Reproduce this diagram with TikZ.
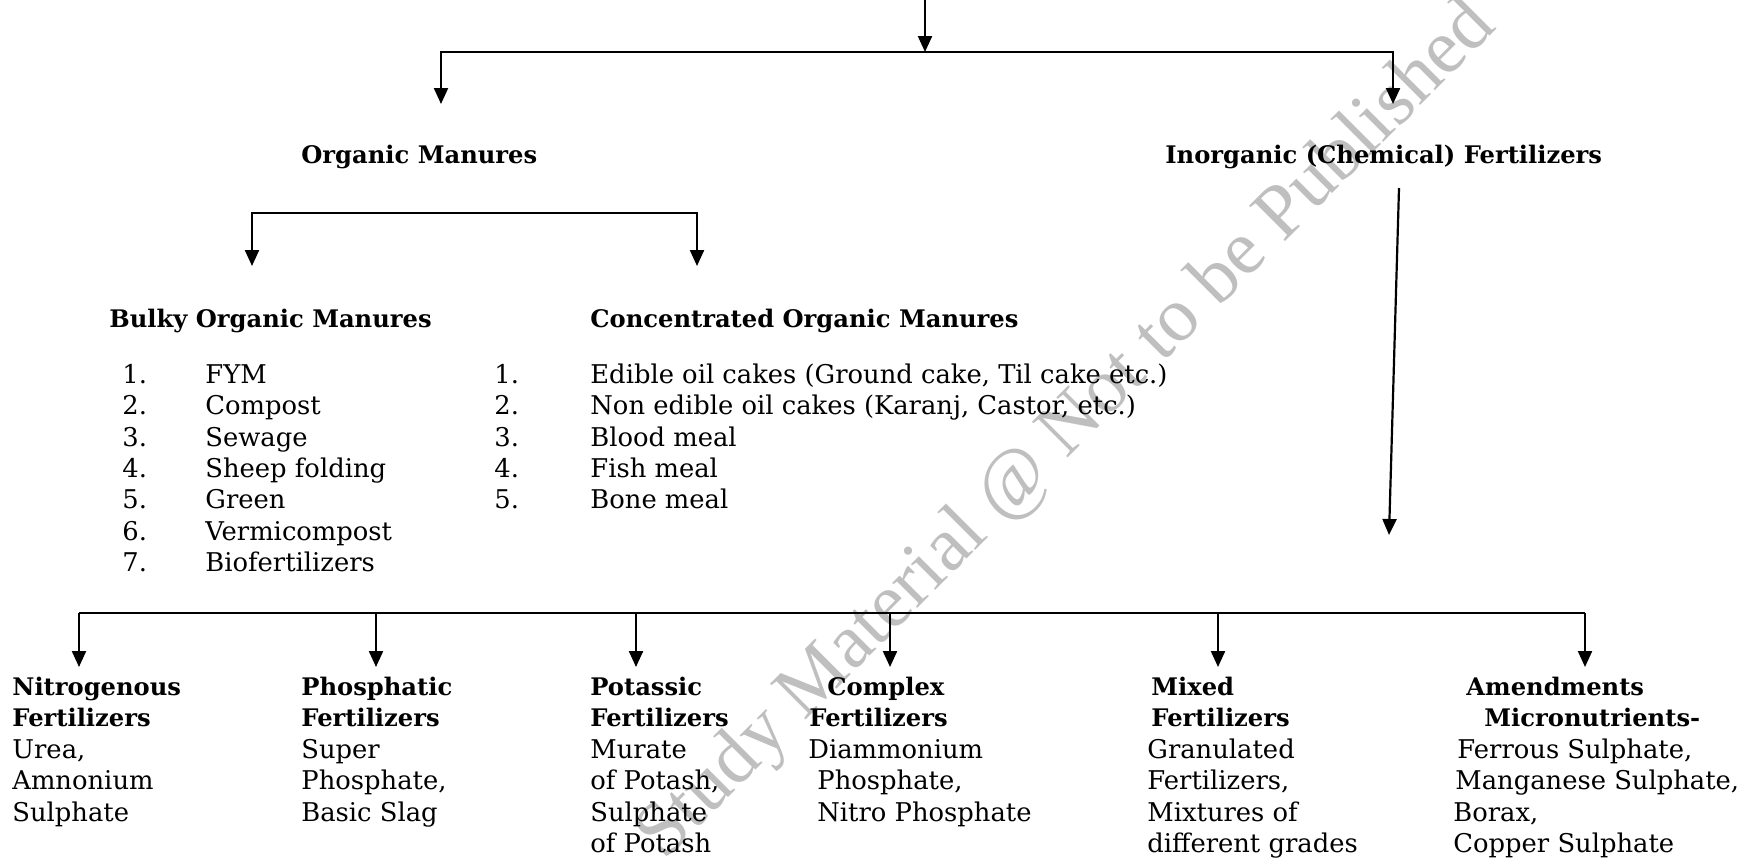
\documentclass[tikz,border=0pt]{standalone}
\usepackage{fontspec}
\setmainfont{DejaVu Serif}
\newfontfamily\wmfont{Liberation Serif}
\usetikzlibrary{arrows.meta}
\begin{document}
\begin{tikzpicture}[x=0.5pt,y=-0.5pt,
  conn/.style={line width=1.1pt},
  arr/.style={conn,-{Triangle[length=8pt,width=7pt]}},
  hd/.style={anchor=base west,inner sep=0pt,font=\bfseries\fontsize{12.1}{15.7}\selectfont},
  col/.style={anchor=north west,inner sep=0pt,align=left,font=\fontsize{12.9}{15.7}\selectfont},
  colb/.style={col,font=\bfseries\fontsize{12.1}{15.7}\selectfont},
  wm/.style={text=black!25,font=\wmfont\fontsize{38.5}{40}\selectfont,rotate=45,inner sep=0pt}]
\useasboundingbox (0,0) rectangle (1749,859);
% watermark
\node[wm] (wmark) at (1068,432) {Study Material @ Not to be Published};
% headings
\node[hd] (org) at (301,163) {Organic Manures};
\node[hd] (inorg) at (1165,163) {Inorganic (Chemical) Fertilizers};
\node[hd] (bulky) at (109,327) {Bulky Organic Manures};
\node[hd] (conc) at (590,327) {Concentrated Organic Manures};
% lists
\node[col] (bnum) at (122,361) {\strut 1.\\2.\\3.\\4.\\5.\\6.\\7.};
\node[col] (bitem) at (205,361) {\strut FYM\\Compost\\Sewage\\Sheep folding\\Green\\Vermicompost\\Biofertilizers};
\node[col] (cnum) at (494,361) {\strut 1.\\2.\\3.\\4.\\5.};
\node[col] (citem) at (590,361) {\strut Edible oil cakes (Ground cake, Til cake etc.)\\Non edible oil cakes (Karanj, Castor, etc.)\\Blood meal\\Fish meal\\Bone meal};
% bottom columns
\node[colb] (h1) at (12,673) {\strut Nitrogenous\\Fertilizers};
\node[col] (b1) at (12,736) {\strut Urea,\\Amnonium\\Sulphate};
\node[colb] (h2) at (301,673) {\strut Phosphatic\\Fertilizers};
\node[col] (b2) at (301,736) {\strut Super\\Phosphate,\\Basic Slag};
\node[colb] (h3) at (590,673) {\strut Potassic\\Fertilizers};
\node[col] (b3) at (590,736) {\strut Murate\\of Potash,\\Sulphate\\of Potash};
\node[colb] (h4) at (809,673) {\strut\hspace{9pt}Complex\\Fertilizers};
\node[col] (b4) at (808,736) {\strut Diammonium\\\hspace{4.5pt}Phosphate,\\\hspace{4.5pt}Nitro Phosphate};
\node[colb] (h5) at (1151,673) {\strut Mixed\\Fertilizers};
\node[col] (b5) at (1147,736) {\strut Granulated\\Fertilizers,\\Mixtures of\\different grades};
\node[colb] (h6) at (1466,673) {\strut Amendments\\\hspace{9pt}Micronutrients-};
\node[col] (b6) at (1453,736) {\strut\hspace{2pt}Ferrous Sulphate,\\\hspace{1pt}Manganese Sulphate,\\Borax,\\Copper Sulphate};
% connector coordinates
\coordinate (root) at (925,-10);
\coordinate (jtop) at (925,52);
\coordinate (tl) at (441,104);
\coordinate (tr) at (1393,104);
\coordinate (jorg) at (475,213);
\coordinate (tbl) at (252,266);
\coordinate (tbr) at (697,266);
\coordinate (ls) at (1399,188);
\coordinate (le) at (1389,535);
\coordinate (hl) at (79,613);
\coordinate (hr) at (1585,613);
% connectors
\draw[arr] (root) -- (jtop);
\draw[arr] (jtop) -| (tl);
\draw[arr] (jtop) -| (tr);
\draw[arr] (jorg) -| (tbl);
\draw[arr] (jorg) -| (tbr);
\draw[arr] (ls) -- (le);
\draw[conn] (hl) -- (hr);
\foreach \x/\n in {79/1,376/2,636/3,890/4,1218/5,1585/6}{
  \coordinate (d\n) at (\x,613);
  \coordinate (e\n) at (\x,667);
  \draw[arr] (d\n) -- (e\n);
}
\end{tikzpicture}
\end{document}
